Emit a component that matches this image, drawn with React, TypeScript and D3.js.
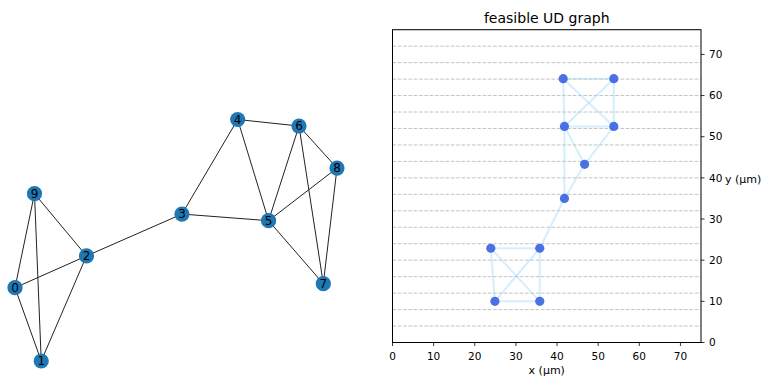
import React from "react";
import * as d3 from "d3";

// ---- Left: abstract graph (networkx-like layout) ----
const nodeIds = [0, 1, 2, 3, 4, 5, 6, 7, 8, 9];
const layoutX = [-1.0, -0.837, -0.556, 0.037, 0.383, 0.575, 0.764, 0.915, 1.0, -0.879];
const layoutY = [-0.393, -1.0, -0.13, 0.217, 1.0, 0.162, 0.946, -0.36, 0.598, 0.386];
const graphEdges: [number, number][] = [
  [0, 9], [0, 1], [0, 2], [9, 1], [9, 2], [1, 2],
  [2, 3], [3, 4], [3, 5],
  [4, 5], [4, 6], [5, 6], [5, 7], [5, 8], [6, 7], [6, 8], [7, 8],
];

// ---- Right: feasible UD graph embedding (µm) ----
const udX = [23.9, 24.9, 35.8, 41.8, 46.7, 41.8, 53.8, 53.8, 41.5, 35.8];
const udY = [22.9, 10.0, 22.9, 35.0, 43.3, 52.5, 52.5, 64.1, 64.1, 10.0];
const udEdges: [number, number][] = [
  [0, 2], [0, 1], [0, 9], [2, 1], [2, 9], [1, 9],
  [2, 3], [3, 4], [3, 5],
  [4, 5], [4, 6], [5, 6], [5, 7], [5, 8], [6, 7], [6, 8], [7, 8],
];
const xTicks = [0, 10, 20, 30, 40, 50, 60, 70];
const yTicks = [0, 10, 20, 30, 40, 50, 60, 70];
const gridYs = d3.range(0, 77, 4);

const W = 763;
const H = 378;
const FONT = "DejaVu Sans, sans-serif";

export default function App() {
  const gx = d3.scaleLinear().domain([-1, 1]).range([15, 337]);
  const gy = d3.scaleLinear().domain([-1, 1]).range([361, 119.5]);

  const ax = { left: 392.5, right: 701, top: 29.7, bottom: 342.5 };
  const x = d3.scaleLinear().domain([0, 75]).range([ax.left, ax.right]);
  const y = d3.scaleLinear().domain([0, 76]).range([ax.bottom, ax.top]);

  return (
    <svg width={W} height={H} style={{ position: "absolute", left: 0, top: 0 }} fontFamily={FONT}>
      <rect width={W} height={H} fill="#fff" />
      {/* left graph */}
      <g>
        {graphEdges.map(([a, b], i) => (
          <line key={i} x1={gx(layoutX[a])} y1={gy(layoutY[a])} x2={gx(layoutX[b])} y2={gy(layoutY[b])}
            stroke="#222" strokeWidth={1} />
        ))}
        {nodeIds.map((id, i) => (
          <g key={id}>
            <circle cx={gx(layoutX[i])} cy={gy(layoutY[i])} r={7.6} fill="#1f78b4" />
            <text x={gx(layoutX[i])} y={gy(layoutY[i])} dy="0.36em" textAnchor="middle" fontSize={12} fill="#000">{id}</text>
          </g>
        ))}
      </g>

      {/* right panel */}
      <g>
        <clipPath id="axclip">
          <rect x={ax.left} y={ax.top} width={ax.right - ax.left} height={ax.bottom - ax.top} />
        </clipPath>
        <g clipPath="url(#axclip)">
          {gridYs.map((v) => (
            <line key={v} x1={ax.left} x2={ax.right} y1={y(v)} y2={y(v)} stroke="#b0b0b0" strokeOpacity={0.75}
              strokeWidth={1} strokeDasharray="3.7,1.6" />
          ))}
          {udEdges.map(([a, b], i) => (
            <line key={i} x1={x(udX[a])} y1={y(udY[a])} x2={x(udX[b])} y2={y(udY[b])}
              stroke="#87cefa" strokeOpacity={0.35} strokeWidth={2} />
          ))}
          {udX.map((v, i) => (
            <circle key={i} cx={x(v)} cy={y(udY[i])} r={4.6} fill="#4169e1" fillOpacity={0.95} />
          ))}
        </g>
        <rect x={ax.left} y={ax.top} width={ax.right - ax.left} height={ax.bottom - ax.top}
          fill="none" stroke="#000" strokeWidth={1} />
        {xTicks.map((t) => (
          <g key={t}>
            <line x1={x(t)} x2={x(t)} y1={ax.bottom} y2={ax.bottom + 3.5} stroke="#000" strokeWidth={0.8} />
            <text x={x(t)} y={ax.bottom + 17.5} textAnchor="middle" fontSize={10.5} fill="#000">{t}</text>
          </g>
        ))}
        {yTicks.map((t) => (
          <g key={t}>
            <line x1={ax.right} x2={ax.right + 3.5} y1={y(t)} y2={y(t)} stroke="#000" strokeWidth={0.8} />
            <text x={ax.right + 8} y={y(t)} dy="0.36em" textAnchor="start" fontSize={10.5} fill="#000">{t}</text>
          </g>
        ))}
        <text x={(ax.left + ax.right) / 2} y={374} textAnchor="middle" fontSize={11} fill="#000">x (μm)</text>
        <text x={725} y={182.5} textAnchor="start" fontSize={11} fill="#000">y (μm)</text>
        <text x={(ax.left + ax.right) / 2} y={23} textAnchor="middle" fontSize={14} fill="#000">feasible UD graph</text>
      </g>
    </svg>
  );
}
